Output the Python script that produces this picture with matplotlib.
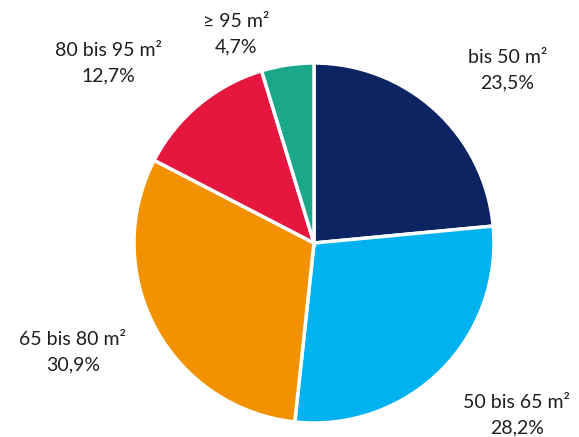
import matplotlib.pyplot as plt
import numpy as np

plt.rcParams['font.family'] = ['Lato', 'DejaVu Sans']

groesse = ['bis 50 m²', '50 bis 65 m²', '65 bis 80 m²', '80 bis 95 m²', '≥ 95 m²']
anteil = [23.5, 28.2, 30.9, 12.7, 4.7]
farben = ['#0c2461', '#00b2f0', '#f39200', '#e5173f', '#1aa88a']

# label placement: radius (in pie radii) and angle offset (deg) per slice
lab_r = [1.44, 1.48, 1.47, 1.52, 1.24]
lab_dang = [-6, 5, -4, 9, 12]

W, H = 579, 437
cx, cy, R = 314, 243, 180

fig = plt.figure(figsize=(W / 100, H / 100), dpi=100)
ax = fig.add_axes([0, 0, 1, 1])
wedges, _ = ax.pie(anteil, colors=farben, startangle=90, counterclock=False,
                   wedgeprops=dict(edgecolor='white', linewidth=2.5))
ax.set_xlim(-cx / R, (W - cx) / R)
ax.set_ylim(-(H - cy) / R, cy / R)
ax.set_aspect('equal')
ax.axis('off')

for w, name, val, r, da in zip(wedges, groesse, anteil, lab_r, lab_dang):
    ang = np.deg2rad((w.theta1 + w.theta2) / 2 + da)
    x, y = r * np.cos(ang), r * np.sin(ang)
    txt = name + '\n' + ('%.1f' % val).replace('.', ',') + '%'
    ax.text(x, y, txt, ha='center', va='center', fontsize=14,
            color='#1e1e1e', linespacing=1.6)

fig.savefig('out.png', dpi=100)
